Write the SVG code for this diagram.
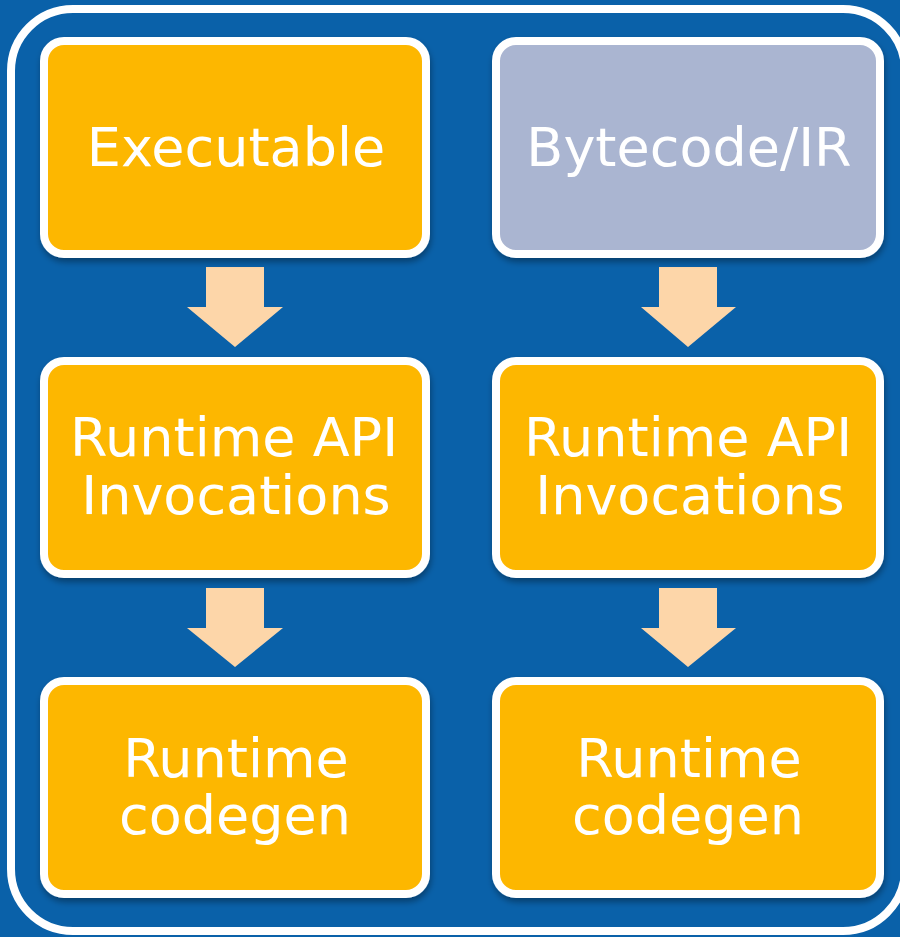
<svg xmlns="http://www.w3.org/2000/svg" width="900" height="937" viewBox="0 0 900 937">
  <style>
    .box { fill: #FDB706; stroke: #FFFFFF; stroke-width: 8; filter: url(#sh); }
    .gray { fill: #AAB5D1; }
    .lbl { font-family: "DejaVu Sans", "Liberation Sans", sans-serif; font-size: 54px; fill: #FFFFFF; text-anchor: middle; }
    .arr { fill: #FDD6A9; }
  </style>
  <defs>
    <filter id="sh" x="-10%" y="-10%" width="120%" height="130%">
      <feDropShadow dx="1" dy="4" stdDeviation="3" flood-color="#000000" flood-opacity="0.35"/>
    </filter>
  </defs>
  <rect x="0" y="0" width="900" height="937" fill="#0A61A9"/>
  <rect id="frame" x="11" y="9" width="894" height="922" rx="62" fill="none" stroke="#FFFFFF" stroke-width="8"/>

  <g id="connectors">
    <polygon class="arr" points="206,267 264,267 264,307 283,307 235,347 187,307 206,307"/>
    <polygon class="arr" points="206,588 264,588 264,628 283,628 235,667 187,628 206,628"/>
    <polygon class="arr" points="659,267 717,267 717,307 736,307 688,347 641,307 659,307"/>
    <polygon class="arr" points="659,588 717,588 717,628 736,628 688,667 641,628 659,628"/>
  </g>

  <g id="executable">
    <rect class="box" x="44" y="41" width="382" height="213" rx="20"/>
    <text class="lbl" x="236" y="166">Executable</text>
  </g>
  <g id="bytecode">
    <rect class="box gray" x="496" y="41" width="384" height="213" rx="20"/>
    <text class="lbl" x="689" y="166">Bytecode/IR</text>
  </g>
  <g id="api-left">
    <rect class="box" x="44" y="361" width="382" height="213" rx="20"/>
    <text class="lbl" x="234" y="456">Runtime API</text>
    <text class="lbl" x="236" y="514">Invocations</text>
  </g>
  <g id="api-right">
    <rect class="box" x="496" y="361" width="384" height="213" rx="20"/>
    <text class="lbl" x="688" y="456">Runtime API</text>
    <text class="lbl" x="690" y="514">Invocations</text>
  </g>
  <g id="codegen-left">
    <rect class="box" x="44" y="681" width="382" height="213" rx="20"/>
    <text class="lbl" x="236" y="777">Runtime</text>
    <text class="lbl" x="235" y="834">codegen</text>
  </g>
  <g id="codegen-right">
    <rect class="box" x="496" y="681" width="384" height="213" rx="20"/>
    <text class="lbl" x="689" y="777">Runtime</text>
    <text class="lbl" x="688" y="834">codegen</text>
  </g>
</svg>
